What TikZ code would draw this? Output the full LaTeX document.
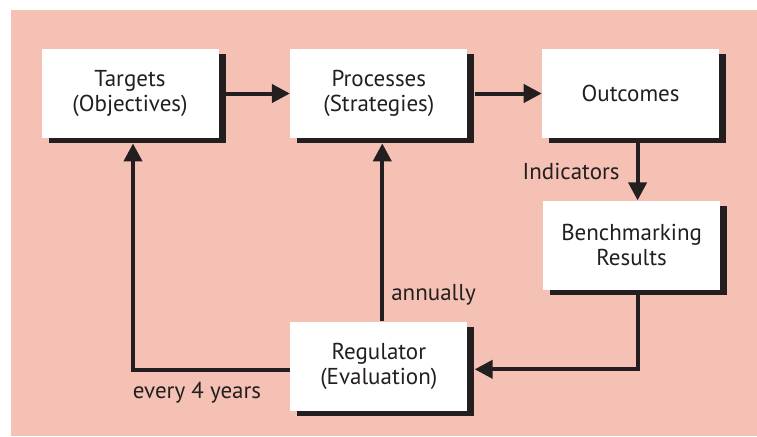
\documentclass[tikz,border=0pt]{standalone}
\usepackage{fontspec}
\setmainfont{PT Sans}
\usetikzlibrary{arrows.meta}
\usetikzlibrary{positioning}
\usetikzlibrary{shadows}
\definecolor{bgpink}{RGB}{245,193,180}
\definecolor{ink}{RGB}{35,31,32}

\begin{document}
\begin{tikzpicture}[font=\fontsize{11.5}{12.5}\selectfont, text=ink,
                block/.style={rectangle, fill=white, align=center, inner sep=0pt,
                    minimum width=88.5pt, minimum height=44.5pt,
                    drop shadow={shadow xshift=3.5pt, shadow yshift=-2.5pt, fill=ink, opacity=1}},
                note/.style={inner sep=0pt},
                arrow/.style={draw=ink, line width=2pt, -{Triangle[length=9pt,width=9pt]}}
            ]
            \fill[bgpink] (5.5pt,0pt) rectangle (378.5pt,213pt);
            \useasboundingbox (0pt,0pt) rectangle (378.5pt,218pt);
            \node[block] (targets) at (65pt,171.25pt) {Targets\\(Objectives)};
            \node[block, right=35.5pt of targets] (processes) {Processes\\(Strategies)};
            \node[block, right=37pt of processes] (outcomes) {Outcomes};
            \node[block, below=31pt of outcomes, xshift=0.5pt] (bench) {Benchmarking\\Results};
            \node[block, below=91.5pt of processes] (regulator) {Regulator\\(Evaluation)};
            \path[arrow] ([xshift=3.5pt]targets.east) -- (processes.west);
            \path[arrow] ([xshift=3.5pt]processes.east) -- (outcomes.west);
            \path[arrow] ([xshift=3.5pt,yshift=-2.5pt]outcomes.south) -- node[note, left=8pt](ind){Indicators} ([xshift=3pt]bench.north);
            \path[arrow] ([xshift=3pt,yshift=-2.5pt]bench.south) |- ([xshift=3.5pt,yshift=-1.5pt]regulator.east);
            \path[arrow] ([xshift=1.75pt]regulator.north) -- node[note, pos=0.15, right=3.5pt](ann){annually} ([xshift=1.75pt,yshift=-2.5pt]processes.south);
            \path[arrow] ([yshift=-2pt]regulator.west) -| node[note, pos=0.5, below right=5pt and -1pt](every){every 4 years} ([xshift=1.5pt,yshift=-2.5pt]targets.south);
        \end{tikzpicture}
\end{document}
